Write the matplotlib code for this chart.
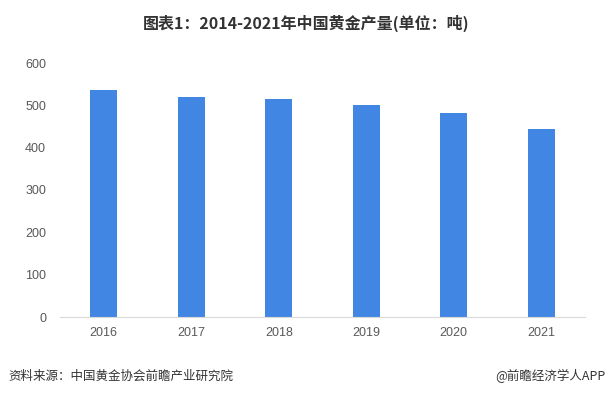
import matplotlib.pyplot as plt

plt.rcParams['font.family'] = ['Noto Sans CJK SC', 'DejaVu Sans']

# data
years = ['2016', '2017', '2018', '2019', '2020', '2021']
output = [536, 520, 515, 501, 482, 444]
yticks = [0, 100, 200, 300, 400, 500, 600]

fig = plt.figure(figsize=(6.12, 3.96), dpi=100)
ax = fig.add_axes([60 / 612, 1 - 317 / 396, 525 / 612, 254 / 396])

ax.bar(years, output, width=0.31, color='#4286E3', zorder=2)

ax.set_ylim(0, 600)
ax.set_xlim(-0.5, len(years) - 0.5)
ax.set_yticks(yticks)
ax.tick_params(axis='both', length=0, labelsize=9, colors='#595959')
ax.tick_params(axis='x', pad=7)
ax.tick_params(axis='y', pad=10)
for lab in ax.get_xticklabels() + ax.get_yticklabels():
    lab.set_family(['Liberation Sans', 'DejaVu Sans'])

for s in ['top', 'right', 'left']:
    ax.spines[s].set_visible(False)
ax.spines['bottom'].set_color('#d9d9d9')

fig.text(0.5, 1 - 23 / 396, '图表1：2014-2021年中国黄金产量(单位：吨)',
         ha='center', va='center', fontsize=11.5, fontweight='bold', color='#333333')
fig.text(8 / 612, 1 - 376 / 396, '资料来源：中国黄金协会前瞻产业研究院',
         ha='left', va='center', fontsize=9, color='#333333')
fig.text(606 / 612, 1 - 376 / 396, '@前瞻经济学人APP',
         ha='right', va='center', fontsize=9, color='#333333')

fig.savefig('out.png', dpi=100)
